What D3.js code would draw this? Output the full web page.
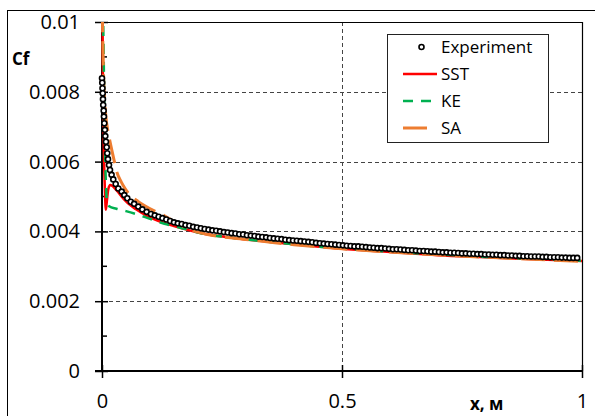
<!DOCTYPE html>
<html>
<head>
<meta charset="utf-8">
<script src="https://cdn.jsdelivr.net/npm/d3@7"></script>
<style>
  body { margin: 0; background: #fff; }
  svg { display: block; font-family: "Open Sans", "Noto Sans", sans-serif; }
</style>
</head>
<body>
<svg id="chart" width="595" height="416"></svg>
<script>
// Cf values are in units of 1e-3
var expData = [
  [0,8.39],[0.0005,8.26],[0.001,8.10],[0.0015,7.96],[0.002,7.79],[0.0025,7.62],[0.0035,7.46],[0.004,7.29],
  [0.0048,7.10],[0.006,6.91],[0.0069,6.73],[0.0083,6.57],[0.0098,6.41],[0.011,6.24],[0.0125,6.07],[0.0146,5.90],
  [0.0167,5.76],[0.020,5.62],[0.0235,5.49],[0.0285,5.36],[0.034,5.23],[0.041,5.14],[0.0465,5.04],[0.0527,4.95],
  [0.060,4.85],[0.067,4.79],[0.0756,4.71],[0.084,4.63],[0.093,4.56],[0.102,4.50],
  [0.110,4.46],[0.118,4.42],[0.126,4.38],[0.134,4.34],[0.142,4.30],[0.150,4.26],[0.158,4.23],[0.166,4.21],
  [0.174,4.18],[0.182,4.16],[0.190,4.13],[0.198,4.11],[0.206,4.09],[0.214,4.07],[0.222,4.05],[0.230,4.03],
  [0.238,4.02],[0.246,4.00],[0.254,3.98],[0.262,3.97],[0.270,3.95],[0.278,3.94],[0.286,3.92],[0.294,3.91],
  [0.302,3.89],[0.310,3.88],[0.318,3.87],[0.326,3.85],[0.334,3.84],[0.342,3.83],[0.350,3.81],[0.358,3.80],
  [0.366,3.79],[0.374,3.78],[0.382,3.76],[0.390,3.75],[0.398,3.74],[0.406,3.73],[0.414,3.72],[0.422,3.71],
  [0.430,3.70],[0.438,3.69],[0.446,3.67],[0.454,3.66],[0.462,3.65],[0.470,3.64],[0.478,3.63],[0.486,3.62],
  [0.494,3.61],[0.502,3.60],[0.510,3.59],[0.518,3.58],[0.526,3.57],[0.534,3.57],[0.542,3.56],[0.550,3.55],
  [0.558,3.54],[0.566,3.53],[0.574,3.52],[0.582,3.52],[0.590,3.51],[0.598,3.50],[0.606,3.49],[0.614,3.49],
  [0.622,3.48],[0.630,3.47],[0.638,3.46],[0.646,3.46],[0.654,3.45],[0.662,3.44],[0.670,3.44],[0.678,3.43],
  [0.686,3.42],[0.694,3.42],[0.702,3.41],[0.710,3.40],[0.718,3.40],[0.726,3.39],[0.734,3.39],[0.742,3.38],
  [0.750,3.37],[0.758,3.37],[0.766,3.36],[0.774,3.36],[0.782,3.35],[0.790,3.35],[0.798,3.34],[0.806,3.34],
  [0.814,3.33],[0.822,3.33],[0.830,3.32],[0.838,3.32],[0.846,3.31],[0.854,3.31],[0.862,3.30],[0.870,3.30],
  [0.878,3.29],[0.886,3.29],[0.894,3.28],[0.902,3.28],[0.910,3.28],[0.918,3.27],[0.926,3.27],[0.934,3.26],
  [0.942,3.26],[0.950,3.26],[0.958,3.25],[0.966,3.25],[0.974,3.24],[0.982,3.24],[0.990,3.24]
];

var sstData = [
  [0.001,10.4],[0.002,8.2],[0.003,7.0],[0.004,6.2],[0.006,5.2],[0.008,4.62],[0.010,4.85],[0.013,5.2],
  [0.017,5.33],[0.022,5.30],[0.03,5.18],[0.05,4.86],[0.07,4.64],[0.1,4.40],[0.15,4.15],[0.2,3.97],
  [0.3,3.77],[0.4,3.63],[0.5,3.50],[0.6,3.41],[0.7,3.32],[0.8,3.26],[0.9,3.20],[1.0,3.15]
];

var keData = [
  [0.002,10.4],[0.004,8.5],[0.005,7.2],[0.007,5.9],[0.009,5.1],[0.011,4.78],[0.015,4.72],[0.03,4.65],
  [0.05,4.58],[0.07,4.50],[0.1,4.36],[0.13,4.22],[0.16,4.12],[0.2,3.97],[0.3,3.77],[0.4,3.63],
  [0.5,3.51],[0.6,3.42],[0.7,3.34],[0.8,3.27],[0.9,3.21],[1.0,3.16]
];

var saData = [
  [0.0005,10.4],[0.003,8.6],[0.008,7.3],[0.012,6.9],[0.017,6.55],[0.025,6.05],[0.031,5.70],[0.04,5.42],
  [0.048,5.23],[0.06,5.02],[0.075,4.86],[0.09,4.73],[0.11,4.58],[0.13,4.45],[0.15,4.28],[0.2,3.98],
  [0.3,3.77],[0.4,3.62],[0.5,3.50],[0.6,3.41],[0.7,3.33],[0.8,3.26],[0.9,3.20],[1.0,3.14]
];

var yTicks = [0, 0.002, 0.004, 0.006, 0.008, 0.01];
var yTickLabels = ["0", "0.002", "0.004", "0.006", "0.008", "0.01"];
var yMinorTicks = [0.001, 0.003, 0.005, 0.007, 0.009];
var xTicks = [0, 0.5, 1];
var xTickLabels = ["0", "0.5", "1"];
var seriesNames = ["Experiment", "SST", "KE", "SA"];

var svg = d3.select("#chart");
var pLeft = 102, pRight = 582, pTop = 22, pBottom = 371;

var x = d3.scaleLinear().domain([0, 1]).range([pLeft, pRight]);
var y = d3.scaleLinear().domain([0, 0.01]).range([pBottom, pTop]);

// outer frame
svg.append("rect").attr("x", 7.5).attr("y", 10.5).attr("width", 620).attr("height", 440)
  .attr("fill", "none").attr("stroke", "#000").attr("stroke-width", 1);

// grid
svg.append("g").selectAll("line.hg")
  .data(yTicks.filter(function(d){ return d > 0 && d < 0.01; }))
  .enter().append("line").attr("class", "hg")
  .attr("x1", pLeft).attr("x2", pRight)
  .attr("y1", function(d){ return Math.round(y(d)) + 0.5; })
  .attr("y2", function(d){ return Math.round(y(d)) + 0.5; })
  .attr("stroke", "#444").attr("stroke-width", 1).attr("stroke-dasharray", "4,3");
svg.append("line")
  .attr("x1", Math.round(x(0.5)) + 0.5).attr("x2", Math.round(x(0.5)) + 0.5)
  .attr("y1", pTop).attr("y2", pBottom)
  .attr("stroke", "#444").attr("stroke-width", 1).attr("stroke-dasharray", "4,3");

// plot top + right border
svg.append("line").attr("x1", pLeft).attr("x2", pRight).attr("y1", pTop + 0.5).attr("y2", pTop + 0.5)
  .attr("stroke", "#000").attr("stroke-width", 1.2);
svg.append("line").attr("x1", pRight + 0.5).attr("x2", pRight + 0.5).attr("y1", pTop).attr("y2", pBottom)
  .attr("stroke", "#000").attr("stroke-width", 1.2);

// y axis
var yAxis = svg.append("g").attr("transform", "translate(" + pLeft + ",0)")
  .call(d3.axisLeft(y).tickValues(yTicks).tickSize(7).tickPadding(15)
    .tickFormat(function(d, i){ return yTickLabels[i]; }));
yAxis.select(".domain").remove();
yAxis.selectAll(".tick line").attr("x1", 6).attr("stroke", "#000").attr("stroke-width", 1.5);
yAxis.selectAll(".tick text").attr("font-size", 20).attr("font-family", "Open Sans").attr("fill", "#000");
yAxis.append("line").attr("x1", 0).attr("x2", 0).attr("y1", pTop).attr("y2", pBottom + 1)
  .attr("stroke", "#000").attr("stroke-width", 2);
yAxis.selectAll("line.minor").data(yMinorTicks).enter().append("line").attr("class", "minor")
  .attr("x1", 0).attr("x2", 5).attr("y1", function(d){ return y(d); }).attr("y2", function(d){ return y(d); })
  .attr("stroke", "#000").attr("stroke-width", 1.5);

// x axis
var xAxis = svg.append("g").attr("transform", "translate(0," + pBottom + ")")
  .call(d3.axisBottom(x).tickValues(xTicks).tickSize(7).tickPadding(16)
    .tickFormat(function(d, i){ return xTickLabels[i]; }));
xAxis.select(".domain").remove();
xAxis.selectAll(".tick line").attr("y1", -6).attr("stroke", "#000").attr("stroke-width", 1.5);
xAxis.selectAll(".tick text").attr("font-size", 20).attr("font-family", "Open Sans").attr("fill", "#000");
xAxis.append("line").attr("x1", pLeft - 7).attr("x2", pRight + 1).attr("y1", 0).attr("y2", 0)
  .attr("stroke", "#000").attr("stroke-width", 2.2);

// axis titles
svg.append("text").attr("x", 12).attr("y", 65).text("Cf")
  .attr("font-size", 17).attr("font-weight", "bold").attr("fill", "#000");
svg.append("text").attr("x", 470).attr("y", 410).text("x, м")
  .attr("font-size", 17).attr("font-weight", "bold").attr("fill", "#000");

// series
svg.append("clipPath").attr("id", "plotclip").append("rect")
  .attr("x", pLeft - 5).attr("y", pTop).attr("width", pRight - pLeft + 10).attr("height", pBottom - pTop);

var line = d3.line()
  .x(function(d){ return x(d[0]); })
  .y(function(d){ return y(d[1] * 1e-3); })
  .curve(d3.curveMonotoneX);

var plot = svg.append("g").attr("clip-path", "url(#plotclip)");
plot.append("path").datum(sstData).attr("d", line).attr("fill", "none")
  .attr("stroke", "#ff0000").attr("stroke-width", 2.5);
plot.append("path").datum(keData).attr("d", line).attr("fill", "none")
  .attr("stroke", "#00b050").attr("stroke-width", 2.5).attr("stroke-dasharray", "10,8");
plot.append("path").datum(saData).attr("d", line).attr("fill", "none")
  .attr("stroke", "#ed7d31").attr("stroke-width", 3).attr("stroke-dasharray", "24,9");

plot.selectAll("circle.exp").data(expData).enter().append("circle").attr("class", "exp")
  .attr("cx", function(d){ return x(d[0]); })
  .attr("cy", function(d){ return y(d[1] * 1e-3); })
  .attr("r", 2.5).attr("fill", "#fff").attr("stroke", "#000").attr("stroke-width", 1.6);

// legend
var lg = svg.append("g");
lg.append("rect").attr("x", 387.5).attr("y", 34.5).attr("width", 161).attr("height", 108)
  .attr("fill", "#fff").attr("stroke", "#222").attr("stroke-width", 1);
var rowY = [47, 74, 101, 128];
lg.selectAll("text.lt").data(seriesNames).enter().append("text").attr("class", "lt")
  .attr("x", 441).attr("y", function(d, i){ return rowY[i] + 6; })
  .attr("font-size", 17).attr("fill", "#000").text(function(d){ return d; });
lg.append("circle").attr("cx", 421.5).attr("cy", rowY[0]).attr("r", 2.5)
  .attr("fill", "#fff").attr("stroke", "#000").attr("stroke-width", 1.6);
lg.append("line").attr("x1", 403).attr("x2", 437).attr("y1", rowY[1]).attr("y2", rowY[1])
  .attr("stroke", "#ff0000").attr("stroke-width", 2.5);
lg.append("line").attr("x1", 403).attr("x2", 437).attr("y1", rowY[2]).attr("y2", rowY[2])
  .attr("stroke", "#00b050").attr("stroke-width", 2.5).attr("stroke-dasharray", "10,8");
lg.append("line").attr("x1", 403).attr("x2", 427).attr("y1", rowY[3]).attr("y2", rowY[3])
  .attr("stroke", "#ed7d31").attr("stroke-width", 3);
</script>
</body>
</html>
